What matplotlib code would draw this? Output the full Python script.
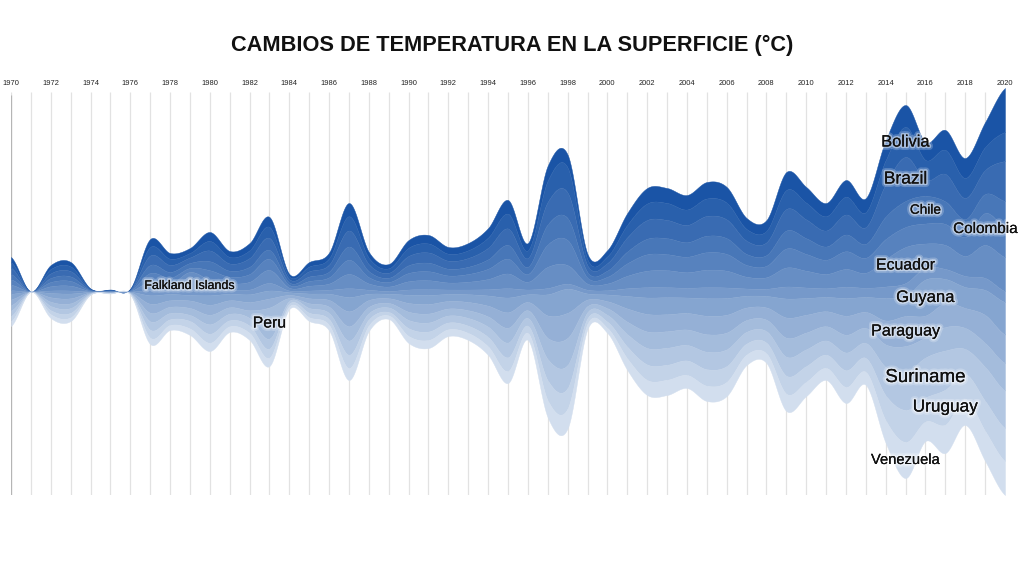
import numpy as np
import matplotlib
matplotlib.use("Agg")
import matplotlib.pyplot as plt
import matplotlib.patheffects as pe

plt.rcParams['font.family'] = ['Liberation Sans', 'DejaVu Sans']

years = list(range(1970, 2021))
countries = ["Argentina", "Bolivia", "Brazil", "Chile", "Colombia", "Ecuador",
             "Falkland Islands", "Guyana", "Paraguay", "Peru", "Suriname",
             "Uruguay", "Venezuela"]

argentina = [.21, 0, .16, .18, .02, .02, .02, .32, .23, .20, .36, .24, .29, .40, .10, .18, .23, .53, .24, .17,
             .31, .34, .27, .29, .38, .55, .29, .60, .52, .22, .25, .47, .62, .60, .58, .66, .63, .44, .43, .72,
             .63, .53, .67, .56, .80, .88, .72, .80, .80, 1.00, 1.76]
bolivia = [.22, 0, .17, .19, .02, .01, .02, .34, .25, .18, .38, .26, .31, .44, .11, .19, .25, .57, .25, .18,
           .33, .36, .28, .31, .41, .59, .31, .85, 1.00, .24, .27, .50, .66, .68, .62, .70, .67, .47, .46, .76,
           .67, .57, .71, .60, .96, 1.20, .80, .96, .80, .92, 1.16]
brazil = [.25, 0, .19, .21, .02, .02, .02, .38, .28, .22, .43, .29, .35, .48, .13, .21, .28, .64, .28, .20,
          .37, .41, .32, .35, .46, .66, .35, .90, 1.02, .27, .30, .57, .75, .73, .69, .79, .75, .53, .51, .86,
          .75, .64, .80, .67, 1.30, 1.76, .64, 1.10, .84, .96, 1.60]
chile = [.21, 0, .16, .18, .02, .01, .02, .32, .23, .20, .36, .24, .29, .36, .10, .18, .23, .53, .24, .17,
         .31, .34, .27, .29, .38, .55, .29, .80, .88, .22, .25, .47, .62, .64, .58, .66, .63, .44, .43, .72,
         .63, .53, .67, .56, .90, 1.04, 1.10, .90, .72, .76, 1.04]
colombia = [.22, 0, .17, .19, .02, .01, .02, .34, .25, .16, .38, .26, .31, .44, .11, .19, .25, .57, .25, .18,
            .33, .36, .28, .31, .41, .59, .31, .90, 1.00, .24, .27, .50, .66, .64, .62, .70, .67, .47, .46, .76,
            .67, .57, .71, .60, .80, .80, .80, .84, .76, 1.28, 1.20]
ecuador = [.22, 0, .17, .19, .02, .01, .02, .34, .25, .20, .38, .26, .31, .52, .11, .19, .25, .57, .25, .18,
           .33, .36, .28, .31, .41, .59, .31, .85, .74, .24, .27, .50, .66, .68, .62, .70, .67, .47, .46, .76,
           .67, .57, .71, .60, 1.10, 1.44, .96, .96, .80, 1.32, 1.36]
falkland = [.14, 0, .10, .12, .01, .01, .01, .21, .15, .72, .24, .16, .19, .30, .07, .12, .16, .35, .16, .11,
            .21, .23, .18, .19, .25, .37, .19, .25, .20, .15, .17, .31, .41, .40, .39, .44, .42, .29, .29, .48,
            .42, .35, .45, .37, .46, .52, .48, .40, .44, .48, .44]
guyana = [.22, 0, .17, .19, .02, .01, .02, .34, .25, .22, .38, .26, .31, .32, .11, .19, .25, .57, .25, .18,
          .33, .36, .28, .31, .41, .59, .31, .85, .96, .24, .27, .50, .66, .68, .62, .70, .67, .47, .46, .76,
          .67, .57, .71, .60, .90, .80, 1.44, .96, .84, 1.00, 1.30]
paraguay = [.23, 0, .18, .20, .02, .02, .02, .36, .26, .30, .40, .28, .33, .36, .12, .20, .27, .60, .27, .19,
            .35, .38, .30, .33, .43, .62, .33, .90, 1.00, .26, .28, .53, .70, .68, .66, .74, .71, .50, .49, .81,
            .71, .60, .76, .64, .96, 1.20, .88, .96, .80, 1.12, 1.14]
peru = [.22, 0, .17, .19, .02, .01, .02, .34, .25, .28, .38, .26, .31, 1.24, .11, .19, .25, .57, .25, .18,
        .33, .36, .28, .31, .41, .59, .31, .85, 1.08, .24, .27, .50, .66, .66, .62, .70, .67, .47, .46, .76,
        .67, .57, .71, .60, .90, 1.04, .80, .94, .84, .96, 1.10]
suriname = [.22, 0, .17, .19, .02, .01, .02, .34, .25, .24, .38, .26, .31, .40, .11, .19, .25, .57, .25, .18,
            .33, .36, .28, .31, .41, .59, .31, .85, .92, .24, .27, .50, .66, .68, .62, .70, .67, .47, .46, .76,
            .67, .57, .71, .60, 1.14, 1.52, 1.60, 1.56, 1.00, 1.36, 1.50]
uruguay = [.21, 0, .16, .18, .02, .01, .02, .32, .23, .30, .36, .24, .29, .36, .11, .18, .23, .53, .24, .14,
           .31, .34, .27, .29, .38, .55, .29, .80, .82, .22, .25, .47, .62, .60, .58, .66, .63, .44, .43, .72,
           .63, .53, .67, .56, 1.00, 1.28, .96, 1.40, 1.00, 1.20, 1.32]
venezuela = [.19, 0, .15, .15, .01, .01, .01, .25, .20, .26, .33, .23, .28, .34, .11, .15, .22, .48, .23, .14,
             .28, .32, .27, .28, .34, .48, .28, .68, .80, .22, .20, .46, .60, .61, .52, .61, .57, .42, .38, .69,
             .57, .48, .64, .52, .90, 1.44, .78, 1.14, 1.04, 1.20, 1.36]

series = [argentina, bolivia, brazil, chile, colombia, ecuador, falkland, guyana,
          paraguay, peru, suriname, uruguay, venezuela]

# label font sizes (pt); None = no label
label_sizes = [None, 11.8, 12.5, 9.8, 11.0, 11.4, 9.0, 12.0, 11.6, 11.4, 13.5, 12.4, 10.6]


def cardinal(x, y, xs):
    """Uniform Catmull-Rom (cardinal, tension 0) through the points."""
    x = np.asarray(x, float)
    y = np.asarray(y, float)
    n = len(x)
    m = np.zeros(n)
    m[1:-1] = (y[2:] - y[:-2]) / 2
    m[0] = (y[1] - y[0]) / 2
    m[-1] = (y[-1] - y[-2]) / 2
    idx = np.clip(np.searchsorted(x, xs, side='right') - 1, 0, n - 2)
    u = (xs - x[idx]) / (x[idx + 1] - x[idx])
    h00 = 2 * u**3 - 3 * u**2 + 1
    h10 = u**3 - 2 * u**2 + u
    h01 = -2 * u**3 + 3 * u**2
    h11 = u**3 - u**2
    return h00 * y[idx] + h10 * m[idx] + h01 * y[idx + 1] + h11 * m[idx + 1]


c0 = np.array([0x1a, 0x54, 0xa6]) / 255
c1 = np.array([0xd2, 0xde, 0xee]) / 255
n = len(series)
colors = [tuple(c0 + (c1 - c0) * i / (n - 1)) for i in range(n)]

fig = plt.figure(figsize=(10.24, 5.76), dpi=100)
ppu = 25.0
center_px = 291.5
ax_top, ax_bot = 88, 495
ax = fig.add_axes([11 / 1024, (576 - ax_bot) / 576, 994 / 1024, (ax_bot - ax_top) / 576])
ax.set_xlim(1970, 2020)
ax.set_ylim(-(ax_bot - center_px) / ppu, (center_px - ax_top) / ppu)

ax.vlines(years, -(ax_bot - center_px) / ppu, (center_px - 92) / ppu,
          color='#e2e2e2', lw=0.9, zorder=0)
ax.vlines([1970], -(ax_bot - center_px) / ppu, (center_px - 95) / ppu,
          color='#b5b5b5', lw=0.9, zorder=0)

# silhouette stacking: boundaries at each year, then smooth each boundary
arr = np.array(series, float)
tot_y = arr.sum(axis=0)
bounds = [tot_y / 2]
for v in arr:
    bounds.append(bounds[-1] - v)
xs = np.linspace(1970, 2020, 2001)
curves = [cardinal(years, b, xs) for b in bounds]
for k, c in enumerate(colors):
    ax.fill_between(xs, curves[k + 1], curves[k], color=c, lw=0.3, edgecolor=c,
                    zorder=2, clip_on=False)

# labels at each series' maximum
glow = [pe.withStroke(linewidth=5, foreground='white', alpha=0.22),
        pe.withStroke(linewidth=2.5, foreground='white', alpha=0.45),
        pe.Normal()]
for k, (name, fs) in enumerate(zip(countries, label_sizes)):
    if fs is None:
        continue
    i = int(np.argmax(arr[k]))
    cy = bounds[k][i] - arr[k, i] / 2
    ax.text(years[i], cy, name, ha='center', va='center', fontsize=fs,
            color='#111111', path_effects=glow, zorder=5)

ax.set_xticks(years[::2])
ax.set_xticklabels([str(y) for y in years[::2]])
ax.xaxis.tick_top()
ax.tick_params(axis='x', length=0, pad=0.7, labelsize=5.4, labelcolor='#222222')
ax.set_yticks([])
for s in ax.spines.values():
    s.set_visible(False)

fig.text(0.5, 1 - 45.5 / 576, "CAMBIOS DE TEMPERATURA EN LA SUPERFICIE (°C)",
         ha='center', va='center', fontsize=15.7, fontweight='bold', color='#111111')

fig.savefig("out.png", dpi=100, facecolor='white')
